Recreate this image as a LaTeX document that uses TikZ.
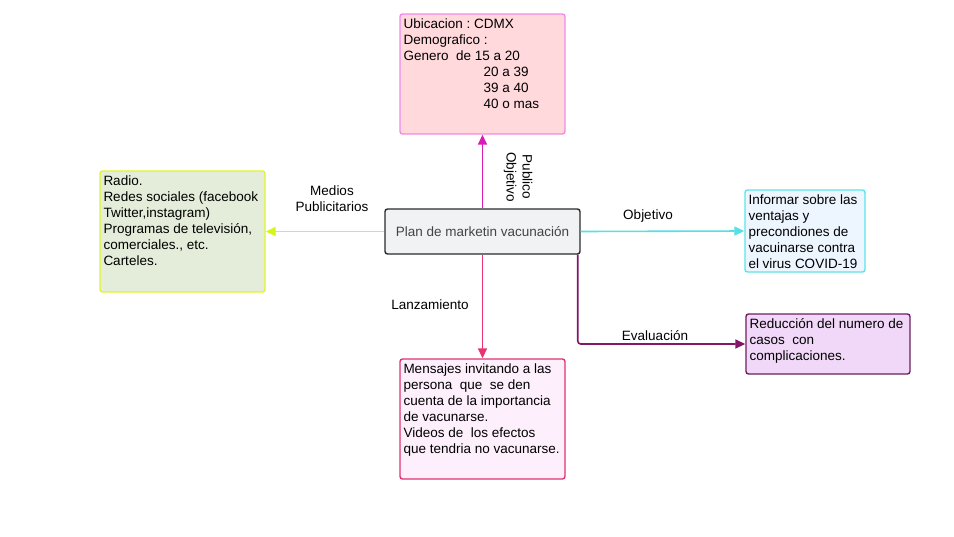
\documentclass[tikz,border=0pt]{standalone}
\usepackage{fontspec}
\setmainfont{Liberation Sans}
\frenchspacing
\usetikzlibrary{arrows.meta,calc}
\definecolor{topfill}{HTML}{FFD9DC}
\definecolor{topbord}{HTML}{F48AE6}
\definecolor{toparr}{HTML}{D81BB5}
\definecolor{leftfill}{HTML}{E3EDD9}
\definecolor{leftbord}{HTML}{E0F52A}
\definecolor{leftarr}{HTML}{D8F51A}
\definecolor{cfill}{HTML}{F1F2F4}
\definecolor{cbord}{HTML}{2B2B2B}
\definecolor{ctext}{HTML}{444444}
\definecolor{rtfill}{HTML}{EDF5FF}
\definecolor{rtbord}{HTML}{5EE3E8}
\definecolor{rtarr}{HTML}{56E0E5}
\definecolor{rbfill}{HTML}{F2D8F8}
\definecolor{rbbord}{HTML}{6B1F5F}
\definecolor{rbarr}{HTML}{82166A}
\definecolor{botfill}{HTML}{FDF0FC}
\definecolor{botbord}{HTML}{E0336E}
\definecolor{botarr}{HTML}{E8336E}
\tikzset{
  box/.style={draw, line width=1.4pt, rounded corners=2.5pt, inner sep=0pt},
  txt/.style={anchor=north west, inner sep=0pt, align=left, font=\fontsize{13.5}{16}\selectfont},
  lbl/.style={inner sep=0pt, align=center, font=\fontsize{13.5}{16}\selectfont},
  conn/.style={line width=1.6pt, -{Triangle[length=10pt,width=9pt]}}
}
\begin{document}
\begin{tikzpicture}[x=1pt,y=-1pt]
\useasboundingbox (0,0) rectangle (954,536);
% boxes
\node[box, fill=cfill, draw=cbord, minimum width=195pt, minimum height=45pt] (c) at (482.5,231.5) {};
\node[lbl, text=ctext] (ct) at (c.center) {Plan de marketin vacunación};
\node[box, fill=topfill, draw=topbord, minimum width=165pt, minimum height=120pt] (top) at (482.5,74) {};
\node[box, fill=leftfill, draw=leftbord, minimum width=165pt, minimum height=121pt] (left) at (182.5,231.5) {};
\node[box, fill=rtfill, draw=rtbord, minimum width=120pt, minimum height=82pt] (rt) at (805,231) {};
\node[box, fill=rbfill, draw=rbbord, minimum width=164pt, minimum height=60pt] (rb) at (828,344) {};
\node[box, fill=botfill, draw=botbord, minimum width=165pt, minimum height=120pt] (bot) at (482.5,419) {};
% texts
\node[txt] (toptxt) at ($(top.north west)+(4,5)$) {Ubicacion : CDMX\\Demografico :\\Genero\ \ de 15 a 20\\\hspace*{80pt}20 a 39\\\hspace*{80pt}39 a 40\\\hspace*{80pt}40 o mas};
\node[txt] (lefttxt) at ($(left.north west)+(4,5)$) {Radio.\\Redes sociales (facebook\\Twitter,instagram)\\Programas de televisión,\\comerciales., etc.\\Carteles.};
\node[txt] (rttxt) at ($(rt.north west)+(4,5)$) {Informar sobre las\\ventajas y\\precondiones de\\vacuinarse contra\\el virus COVID-19};
\node[txt] (rbtxt) at ($(rb.north west)+(4,5)$) {Reducción del numero de\\casos\ \ con\\complicaciones.};
\node[txt] (bottxt) at ($(bot.north west)+(4,5)$) {Mensajes invitando a las\\persona\ \ que\ \ se den\\cuenta de la importancia\\de vacunarse.\\Videos de\ \ los efectos\\que tendria no vacunarse.};
% connectors
\draw[conn, draw=toparr] (c.north) -- (top.south);
\draw[conn, draw=leftarr] (c.west) -- (left.east);
\draw[conn, draw=rtarr] (c.east) -- (rt.west);
\draw[conn, draw=botarr] (c.south) -- (bot.north);
\coordinate (evs) at ($(c.south east)+(-3,0)$);
\draw[conn, draw=rbarr, rounded corners=3pt] (evs) |- (rb.west);
% labels
\node[lbl, rotate=-90] (lpub) at (518,177) {Publico\\Objetivo};
\node[lbl] (lmed) at (332,199) {Medios\\Publicitarios};
\node[lbl] (lobj) at (648,216) {Objetivo};
\node[lbl] (leva) at (655,336) {Evaluación};
\node[lbl] (llan) at (430,305) {Lanzamiento};
\end{tikzpicture}
\end{document}
